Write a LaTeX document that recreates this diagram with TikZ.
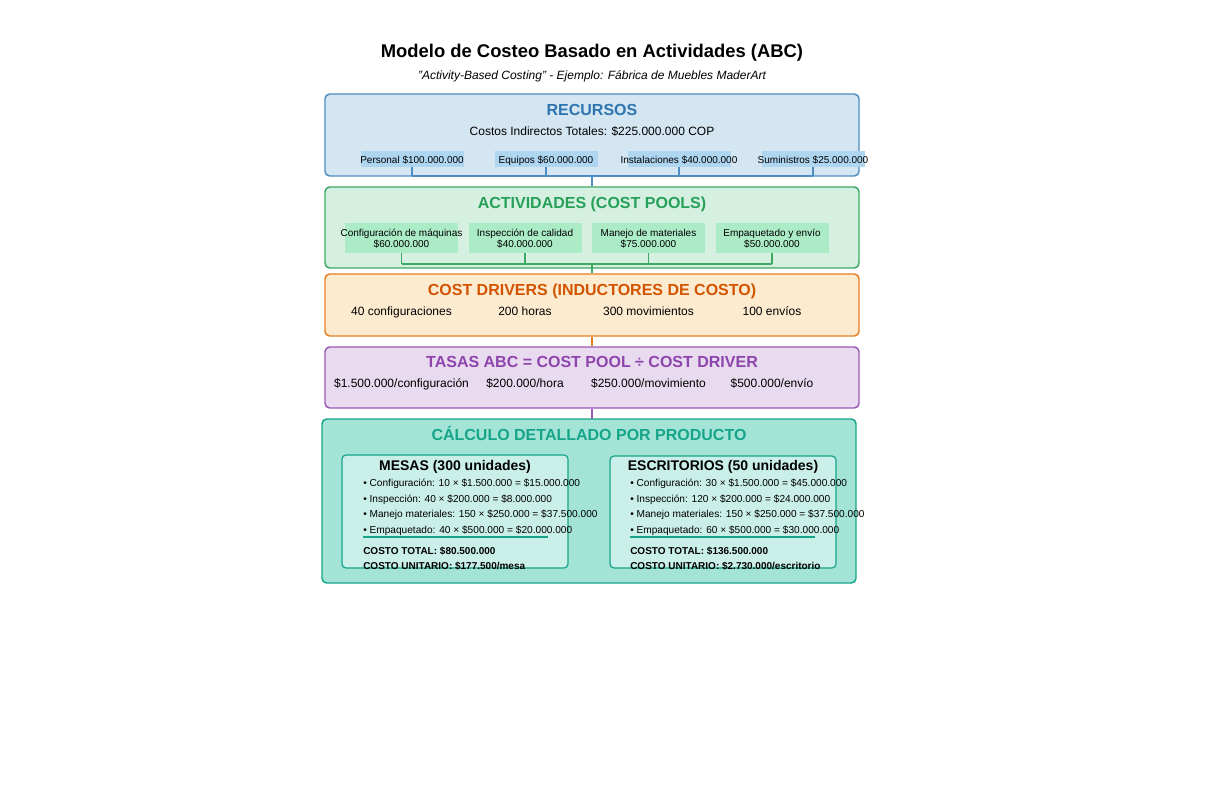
\documentclass[tikz,border=0pt]{standalone}
\usepackage{fontspec}
\setmainfont{Liberation Sans}
\definecolor{recFill}{HTML}{D4E6F1}
\definecolor{recBorder}{HTML}{4F8CC0}
\definecolor{recTitle}{HTML}{2E75B0}
\definecolor{recSub}{HTML}{AED6F1}
\definecolor{actFill}{HTML}{D5F0E0}
\definecolor{actBorder}{HTML}{3DAA64}
\definecolor{actTitle}{HTML}{27A05A}
\definecolor{actSub}{HTML}{ABEBC6}
\definecolor{drvFill}{HTML}{FDEBD0}
\definecolor{drvBorder}{HTML}{E67E22}
\definecolor{drvTitle}{HTML}{D35400}
\definecolor{tasFill}{HTML}{E8DAEF}
\definecolor{tasBorder}{HTML}{9B59B6}
\definecolor{tasTitle}{HTML}{8E44AD}
\definecolor{calFill}{HTML}{A3E4D7}
\definecolor{calBorder}{HTML}{17A589}
\definecolor{calTitle}{HTML}{17A589}
\definecolor{calInner}{HTML}{D1F2EB}
\begin{document}
\begin{tikzpicture}[x=0.75pt,y=-0.75pt,
  bigbox/.style={draw, rounded corners=3.5pt, line width=1.1pt, inner sep=0pt, minimum width=400.5pt},
  subbox/.style={draw=none, inner sep=0pt, align=center},
  fixh/.style={text height=0.72em, text depth=0em},
  txt/.style={inner sep=0pt, fixh, font=\fontsize{9}{10.8}\selectfont},
  sectitle/.style={inner sep=0pt, fixh, yshift=-1.1pt, font=\fontsize{12}{14}\selectfont\bfseries},
  small/.style={inner sep=0pt, font=\fontsize{7.5}{8.4}\selectfont},
  bullet/.style={inner sep=0pt, anchor=west, fixh, font=\fontsize{7.6}{9}\selectfont},
  bbold/.style={inner sep=0pt, anchor=west, fixh, font=\fontsize{7.5}{9}\selectfont\bfseries},
  conn/.style={line width=1.1pt}
]
\fill[white] (0,0) rectangle (1207,806);
\useasboundingbox (0,0) rectangle (1207,806);

% Title
\node[inner sep=0pt, fixh, font=\fontsize{13.8}{16}\selectfont\bfseries] (title) at (592,52.5) {Modelo de Costeo Basado en Actividades (ABC)};
\node[inner sep=0pt, fixh, font=\fontsize{9}{11}\selectfont\itshape] (subtitle) at (592,75) {"Activity-Based Costing" - Ejemplo: Fábrica de Muebles MaderArt};

% RECURSOS
\node[bigbox, draw=recBorder, fill=recFill, minimum height=61.5pt] (rec) at (592,135) {};
\node[sectitle, text=recTitle] (recT) at (592,109) {RECURSOS};
\node[txt] (recTot) at (592,131) {Costos Indirectos Totales: \$225.000.000 COP};
\foreach \n/\x/\t in {r1/412/Personal \$100.000.000, r2/546/Equipos \$60.000.000, r3/679/Instalaciones \$40.000.000, r4/813/Suministros \$25.000.000}{
  \node[subbox, fill=recSub, minimum width=77.25pt, minimum height=12pt] (\n) at (\x,159) {};
  \node[small, fixh] at (\n) {\t};
}
\coordinate (rbus) at (592,176);
\foreach \n in {r1,r2,r3,r4}{\draw[conn, draw=recBorder] (\n.south) -- (\n.south |- rbus);}
\draw[conn, draw=recBorder] (r1.south |- rbus) -- (r4.south |- rbus);

% ACTIVIDADES
\node[bigbox, draw=actBorder, fill=actFill, minimum height=60.75pt] (act) at (592,227.5) {};
\draw[conn, draw=recBorder] (rbus) -- (act.north);
\node[sectitle, text=actTitle] (actT) at (592,202) {ACTIVIDADES (COST POOLS)};
\foreach \n/\x/\a/\b in {a1/401.5/Configuración de máquinas/\$60.000.000, a2/525/Inspección de calidad/\$40.000.000, a3/648.5/Manejo de materiales/\$75.000.000, a4/772/Empaquetado y envío/\$50.000.000}{
  \node[subbox, fill=actSub, minimum width=84.75pt, minimum height=22.5pt] (\n) at (\x,238) {};
  \node[small, align=center] at ([yshift=-0.6pt]\n) {\a\\\b};
}
\coordinate (abus) at (592,264);
\foreach \n in {a1,a2,a3,a4}{\draw[conn, draw=actBorder] (\n.south) -- (\n.south |- abus);}
\draw[conn, draw=actBorder] (a1.south |- abus) -- (a4.south |- abus);

% COST DRIVERS
\node[bigbox, draw=drvBorder, fill=drvFill, minimum height=46.5pt] (drv) at (592,305) {};
\draw[conn, draw=actBorder] (abus) -- (drv.north);
\node[sectitle, text=drvTitle] (drvT) at (592,289) {COST DRIVERS (INDUCTORES DE COSTO)};
\node[txt] (d1) at (401.5,311) {40 configuraciones};
\node[txt] (d2) at (525,311) {200 horas};
\node[txt] (d3) at (648.5,311) {300 movimientos};
\node[txt] (d4) at (772,311) {100 envíos};

% TASAS
\node[bigbox, draw=tasBorder, fill=tasFill, minimum height=45.75pt] (tas) at (592,377.5) {};
\draw[conn, draw=drvBorder] (drv.south) -- (tas.north);
\node[sectitle, text=tasTitle] (tasT) at (592,361) {TASAS ABC = COST POOL ÷ COST DRIVER};
\node[txt] (t1) at (401.5,383) {\$1.500.000/configuración};
\node[txt] (t2) at (525,383) {\$200.000/hora};
\node[txt] (t3) at (648.5,383) {\$250.000/movimiento};
\node[txt] (t4) at (772,383) {\$500.000/envío};

% CALCULO
\node[bigbox, draw=calBorder, fill=calFill, minimum height=123pt] (cal) at (589,501) {};
\coordinate (calTop) at (592,419);
\draw[conn, draw=tasBorder] (tas.south) -- (calTop);
\node[sectitle, text=calTitle] (calT) at (589,434) {CÁLCULO DETALLADO POR PRODUCTO};

\node[draw=calBorder, fill=calInner, fill opacity=0.85, draw opacity=1, rounded corners=3pt, line width=0.9pt, inner sep=0pt, minimum width=169.5pt, minimum height=84.75pt] (mes) at (455,511.5) {};
\node[draw=calBorder, fill=calInner, fill opacity=0.85, draw opacity=1, rounded corners=3pt, line width=0.9pt, inner sep=0pt, minimum width=169.5pt, minimum height=84pt] (esc) at (723,512) {};

\node[inner sep=0pt, fixh, font=\fontsize{10.5}{12}\selectfont\bfseries] (mesT) at (455,466) {MESAS (300 unidades)};
\node[bullet] (m1) at (363,482) {• Configuración: 10 × \$1.500.000 = \$15.000.000};
\node[bullet] (m2) at (363,497.5) {• Inspección: 40 × \$200.000 = \$8.000.000};
\node[bullet] (m3) at (363,513) {• Manejo materiales: 150 × \$250.000 = \$37.500.000};
\node[bullet] (m4) at (363,528.5) {• Empaquetado: 40 × \$500.000 = \$20.000.000};
\coordinate (ms1) at (363,537);
\coordinate (ms2) at (548,537);
\draw[line width=0.9pt, draw=calBorder] (ms1) -- (ms2);
\node[bbold] (m5) at (363,549.5) {COSTO TOTAL: \$80.500.000};
\node[bbold] (m6) at (363,564.5) {COSTO UNITARIO: \$177.500/mesa};

\node[inner sep=0pt, fixh, font=\fontsize{10.5}{12}\selectfont\bfseries] (escT) at (723,466) {ESCRITORIOS (50 unidades)};
\node[bullet] (e1) at (630,482) {• Configuración: 30 × \$1.500.000 = \$45.000.000};
\node[bullet] (e2) at (630,497.5) {• Inspección: 120 × \$200.000 = \$24.000.000};
\node[bullet] (e3) at (630,513) {• Manejo materiales: 150 × \$250.000 = \$37.500.000};
\node[bullet] (e4) at (630,528.5) {• Empaquetado: 60 × \$500.000 = \$30.000.000};
\coordinate (es1) at (630,537);
\coordinate (es2) at (815,537);
\draw[line width=0.9pt, draw=calBorder] (es1) -- (es2);
\node[bbold] (e5) at (630,549.5) {COSTO TOTAL: \$136.500.000};
\node[bbold] (e6) at (630,564.5) {COSTO UNITARIO: \$2.730.000/escritorio};
\end{tikzpicture}
\end{document}
